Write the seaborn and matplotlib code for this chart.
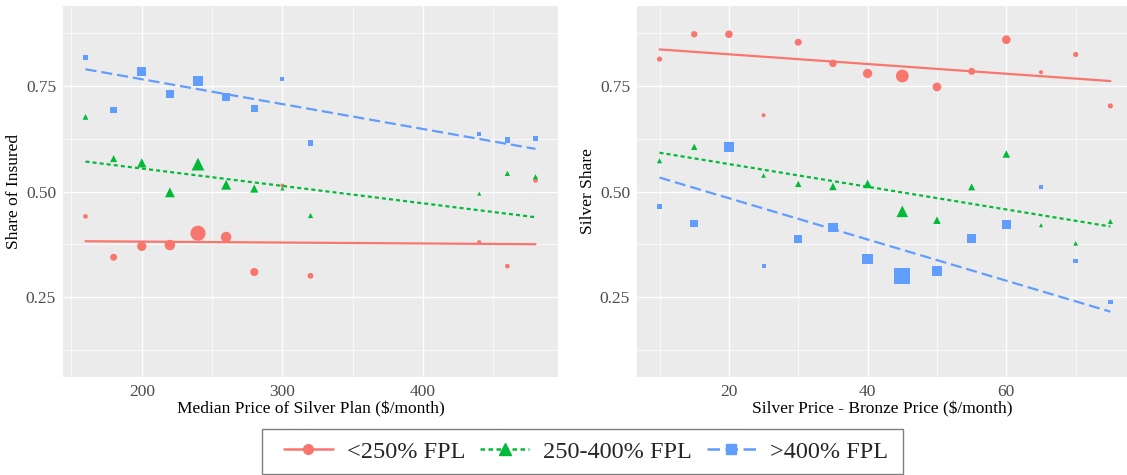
import numpy as np
import pandas as pd
import matplotlib
matplotlib.use("Agg")
import matplotlib.pyplot as plt
from matplotlib.lines import Line2D
from matplotlib.patches import Rectangle
from matplotlib.ticker import FixedLocator, AutoMinorLocator
import seaborn as sns

# groups
groups = ["<250% FPL", "250-400% FPL", ">400% FPL"]
colors = ["#F8766D", "#00BA38", "#619CFF"]

# left panel: median silver price vs share of insured
left_price = [160, 180, 200, 220, 240, 260, 280, 300, 320, 440, 460, 480]
left_low = [0.441, 0.344, 0.370, 0.373, 0.401, 0.392, 0.309, 0.514, 0.300, 0.380, 0.323, 0.526]
left_mid = [0.677, 0.578, 0.568, 0.498, 0.565, 0.516, 0.507, 0.507, 0.443, 0.495, 0.543, 0.535]
left_high = [0.818, 0.693, 0.785, 0.731, 0.762, 0.724, 0.696, 0.766, 0.615, 0.636, 0.622, 0.625]
left_low_w = [16, 36, 64, 81, 169, 81, 49, 12, 25, 12, 16, 16]
left_mid_w = [25, 36, 64, 72, 121, 72, 49, 12, 20, 12, 20, 20]
left_high_w = [20, 30, 56, 56, 81, 49, 36, 12, 20, 12, 20, 20]

# right panel: silver - bronze price vs silver share
right_diff = [10, 15, 20, 25, 30, 35, 40, 45, 50, 55, 60, 65, 70, 75]
right_low = [0.814, 0.873, 0.873, 0.681, 0.854, 0.804, 0.780, 0.774, 0.748, 0.785, 0.860, 0.783, 0.825, 0.703]
right_mid = [0.573, 0.606, np.nan, 0.538, 0.518, 0.512, 0.518, 0.453, 0.432, 0.511, 0.589, 0.420, 0.377, 0.429]
right_high = [0.465, 0.424, 0.606, 0.323, 0.387, 0.415, 0.340, 0.299, 0.311, 0.389, 0.422, 0.511, 0.335, 0.238]
right_low_w = [20, 30, 42, 12, 36, 42, 64, 121, 56, 36, 56, 12, 20, 20]
right_mid_w = [20, 30, 42, 16, 30, 42, 56, 100, 42, 36, 42, 12, 16, 20]
right_high_w = [20, 42, 81, 12, 42, 64, 81, 196, 81, 56, 64, 12, 16, 16]

# fitted lines, value at first and last x
left_fit_start = [0.382, 0.571, 0.790]
left_fit_end = [0.375, 0.439, 0.601]
right_fit_start = [0.837, 0.592, 0.533]
right_fit_end = [0.762, 0.417, 0.215]


def make_points(x, ys, ws):
    frames = []
    for g, y, w in zip(groups, ys, ws):
        frames.append(pd.DataFrame({"x": x, "y": y, "w": w, "group": g}))
    return pd.concat(frames, ignore_index=True).dropna()


def make_fit(x, start, end):
    rows = []
    for g, a, b in zip(groups, start, end):
        rows.append({"x": x[0], "y": a, "group": g})
        rows.append({"x": x[-1], "y": b, "group": g})
    return pd.DataFrame(rows)


left_pts = make_points(left_price, [left_low, left_mid, left_high],
                       [left_low_w, left_mid_w, left_high_w])
right_pts = make_points(right_diff, [right_low, right_mid, right_high],
                        [right_low_w, right_mid_w, right_high_w])
left_fit = make_fit(left_price, left_fit_start, left_fit_end)
right_fit = make_fit(right_diff, right_fit_start, right_fit_end)

sns.set_theme(style="darkgrid", rc={
    "axes.facecolor": "#EBEBEB",
    "grid.color": "white",
    "axes.edgecolor": "#EBEBEB",
})
plt.rcParams["font.family"] = ["Liberation Serif", "DejaVu Serif"]

palette = dict(zip(groups, colors))
markers = dict(zip(groups, ["o", "^", "s"]))
dashes = dict(zip(groups, ["", (1.8, 1.4), (5.0, 2.2)]))

fig = plt.figure(figsize=(11.27, 4.75), dpi=100)
W, H = 1127, 475
ax1 = fig.add_axes([63 / W, (H - 377) / H, 495 / W, 371 / H])
ax2 = fig.add_axes([637 / W, (H - 377) / H, 490 / W, 371 / H])


def draw_panel(ax, pts, fit, xlim, xticks, xlabel, ylabel):
    sns.scatterplot(data=pts, x="x", y="y", hue="group", style="group", size="w",
                    palette=palette, markers=markers, hue_order=groups,
                    style_order=groups, sizes=(10 * 0.7, 200 * 0.7),
                    size_norm=(10, 200), linewidth=0, legend=False, ax=ax)
    sns.lineplot(data=fit, x="x", y="y", hue="group", style="group",
                 palette=palette, dashes=dashes, hue_order=groups,
                 style_order=groups, linewidth=1.6, legend=False, ax=ax)
    ax.set_xlim(*xlim)
    ax.set_ylim(0.06, 0.94)
    ax.xaxis.set_major_locator(FixedLocator(xticks))
    ax.yaxis.set_major_locator(FixedLocator([0.25, 0.50, 0.75]))
    ax.set_yticklabels(["0.25", "0.50", "0.75"])
    ax.xaxis.set_minor_locator(AutoMinorLocator(2))
    ax.yaxis.set_minor_locator(AutoMinorLocator(2))
    ax.grid(which="major", color="white", linewidth=1.0)
    ax.grid(which="minor", color="white", linewidth=0.5)
    ax.tick_params(which="major", length=2.75, width=0.6, color="#333333",
                   labelsize=12.5, labelcolor="#4D4D4D", pad=2.2)
    ax.tick_params(which="minor", length=0)
    for s in ax.spines.values():
        s.set_visible(False)
    ax.set_xlabel(xlabel, fontsize=12.5, color="black", labelpad=1)
    ax.set_ylabel(ylabel, fontsize=12.5, color="black", labelpad=3)


draw_panel(ax1, left_pts, left_fit, (144, 496), [200, 300, 400],
           "Median Price of Silver Plan ($/month)", "Share of Insured")
draw_panel(ax2, right_pts, right_fit, (6.75, 77.4), [20, 40, 60],
           "Silver Price - Bronze Price ($/month)", "Silver Share")

handles = [
    Line2D([], [], color=c, lw=1.8, linestyle=ls, marker=m, markersize=ms)
    for c, ls, m, ms in zip(colors, ["-", (0, (1.8, 1.4)), (0, (5.0, 2.2))],
                            ["o", "^", "s"], [7, 8, 6.5])
]
fig.legend(handles, groups, loc="center left",
           bbox_to_anchor=(284 / W, (H - 451.5) / H), ncol=3, frameon=False,
           fontsize=17.5, handlelength=2.0, handletextpad=0.6,
           columnspacing=0.6, borderpad=0, borderaxespad=0)
fig.patches.append(Rectangle((262 / W, (H - 474) / H), (903 - 262) / W, 45 / H,
                             transform=fig.transFigure, fill=False,
                             edgecolor="#7F7F7F", linewidth=1.0))

fig.savefig("out.png", dpi=100)
